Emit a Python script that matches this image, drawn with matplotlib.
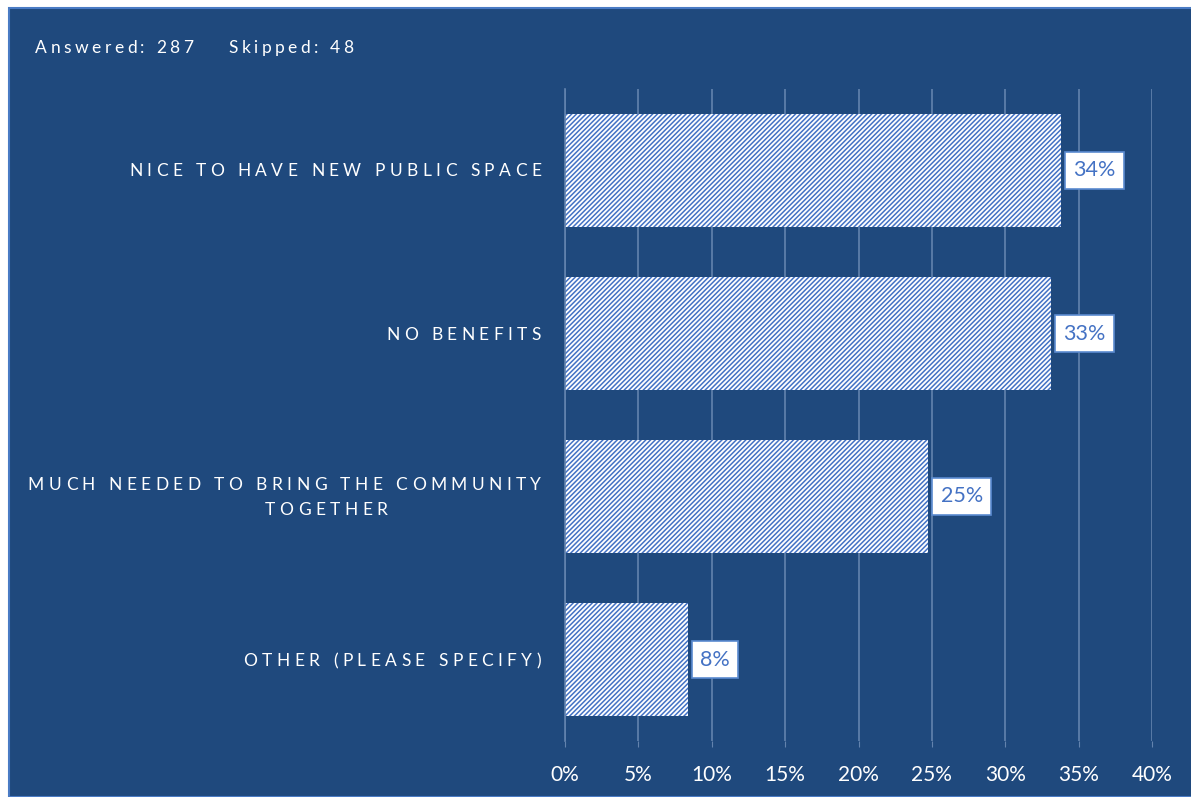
import matplotlib
matplotlib.use("Agg")
import matplotlib.pyplot as plt
from matplotlib.patches import Rectangle
from matplotlib import font_manager
from matplotlib.ft2font import FT2Font

categories = ["NICE TO HAVE NEW PUBLIC SPACE", "NO BENEFITS",
              "MUCH NEEDED TO BRING THE COMMUNITY\nTOGETHER", "OTHER (PLEASE SPECIFY)"]
counts = [97, 95, 71, 24]
answered = 287
skipped = 48
pct = [c / answered * 100 for c in counts]
xticks = [0, 5, 10, 15, 20, 25, 30, 35, 40]

BG = "#1f497d"
BLUE = "#4472c4"
GRID = "#6383ae"
FONT = "Lato"

W, H, DPI = 1191, 797, 100
plt.rcParams["hatch.linewidth"] = 1.1
plt.rcParams["font.family"] = [FONT, "DejaVu Sans"]

fig = plt.figure(figsize=(W / DPI, H / DPI), dpi=DPI, facecolor="white")
fig.patches.append(Rectangle((9 / W, 0), 1, 1 - 8 / H, transform=fig.transFigure,
                             facecolor=BG, edgecolor="#4a7bc4", linewidth=1.5, zorder=-5))

ax = fig.add_axes([565 / W, 1 - 741 / H, (1152 - 565) / W, (741 - 89) / H])
ax.set_facecolor("none")

y = list(range(len(categories)))
bars = ax.barh(y, pct, height=0.69, color="white", edgecolor=BLUE, linewidth=0,
               hatch="/" * 7, zorder=2)
ax.set_ylim(3.5, -0.5)
ax.set_xlim(0, 40)
ax.set_xticks(xticks)
ax.set_xticklabels([f"{t}%" for t in xticks], color="white", fontsize=15)
ax.tick_params(axis="x", length=4, color=GRID, pad=13.5)
ax.set_yticks([])
ax.grid(axis="x", color=GRID, linewidth=1.2, zorder=1)
for s in ["top", "right", "bottom"]:
    ax.spines[s].set_visible(False)
ax.spines["left"].set_color(GRID)
ax.spines["left"].set_linewidth(1.2)

for b, v in zip(bars, pct):
    ax.annotate(f"{v:.0f}%", (b.get_width(), b.get_y() + b.get_height() / 2),
                xytext=(9, 0), textcoords="offset points", ha="left", va="center",
                color=BLUE, fontsize=15.5, zorder=4,
                bbox=dict(boxstyle="square,pad=0.38", fc="white", ec="#5b8bd0", lw=1.2))

# letter-spaced text, drawn one glyph at a time
font_path = font_manager.findfont(font_manager.FontProperties(family=FONT))
ft = FT2Font(font_path)


def advances(text, size):
    ft.set_size(size, DPI)
    out = []
    for ch in text:
        g = ft.load_char(ord(ch))
        out.append(g.linearHoriAdvance / 65536)
    return out


def spaced(text, x, ybase, size, track, align="right", color="white"):
    adv = advances(text, size)
    total = sum(adv) + track * (len(text) - 1)
    if align == "right":
        x0 = x - total
    elif align == "center":
        x0 = x - total / 2
    else:
        x0 = x
    for ch, a in zip(text, adv):
        fig.text(x0 / W, 1 - ybase / H, ch, fontsize=size, color=color,
                 ha="left", va="baseline", family=FONT)
        x0 += a + track


label_size = 12.5
track = 4.45
centers = [170, 333, 496, 660]
for cat, cy in zip(categories, centers):
    lines = cat.split("\n")
    if len(lines) == 1:
        spaced(lines[0], 541, cy + 6.5, label_size, track)
    else:
        spaced(lines[0], 541, cy - 6, label_size, track)
        spaced(lines[1], 326, cy + 19, label_size, track, align="center")

spaced(f"Answered: {answered}    Skipped: {skipped}", 35, 53, 12.5, 3.5, align="left")

fig.savefig("out.png", dpi=DPI, facecolor="white")
